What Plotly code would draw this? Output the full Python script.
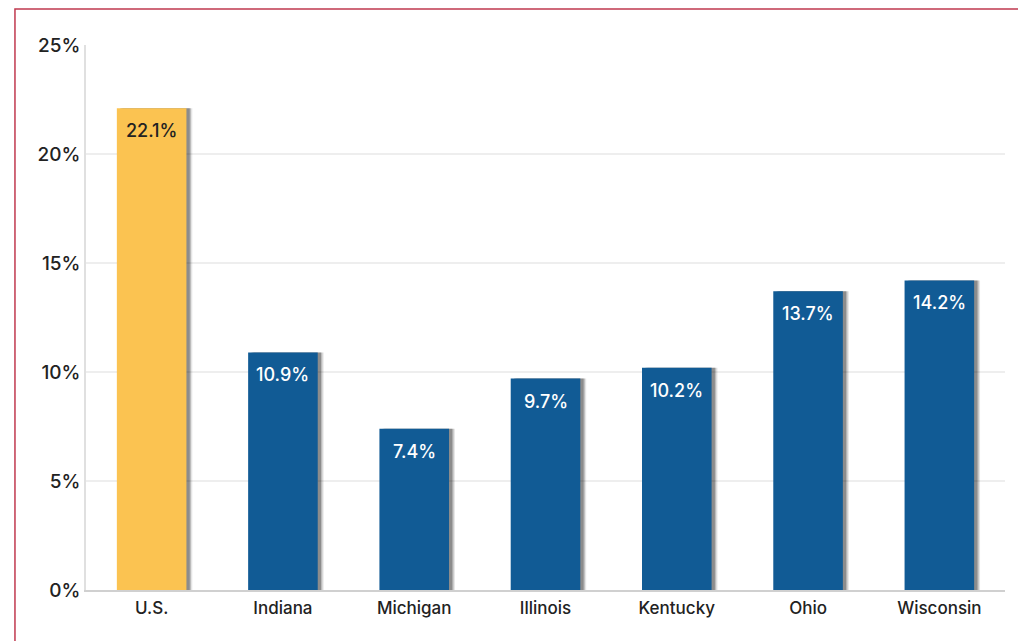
import plotly.graph_objects as go

states = ["U.S.", "Indiana", "Michigan", "Illinois", "Kentucky", "Ohio", "Wisconsin"]
shares = [22.1, 10.9, 7.4, 9.7, 10.2, 13.7, 14.2]
bar_colors = ["#fbc351"] + ["#115b95"] * 6
text_colors = ["#222222"] + ["#ffffff"] * 6
labels = [f"{v}%" for v in shares]

fig = go.Figure()

# soft drop shadow behind each bar
for dx, alpha in [(0.045, 0.10), (0.035, 0.18), (0.025, 0.25)]:
    fig.add_trace(go.Bar(
        x=states, y=shares, width=0.53, offset=-0.265 + dx,
        marker=dict(color=f"rgba(0,0,0,{alpha})", line=dict(width=0)),
        hoverinfo="skip", showlegend=False,
    ))
fig.add_trace(go.Bar(
    x=states, y=shares, width=0.53, offset=-0.265,
    marker=dict(color=bar_colors, line=dict(width=0)),
    showlegend=False,
))

# value labels just inside the top of each bar
for s, v, lab, tc in zip(states, shares, labels, text_colors):
    fig.add_annotation(
        x=s, y=v, text=lab, showarrow=False,
        yanchor="top", yshift=-10,
        font=dict(size=18, color=tc, family="Inter", weight=500),
    )

fig.update_layout(
    barmode="overlay",
    width=1026, height=641,
    margin=dict(l=78, r=29, t=37, b=59),
    paper_bgcolor="white", plot_bgcolor="white",
    font=dict(family="Inter", color="#222222"),
    xaxis=dict(
        tickfont=dict(size=17, weight=500), showgrid=False,
        showline=True, linecolor="#d0d0d0", linewidth=1.5,
        ticks="", ticklabelstandoff=2,
    ),
    yaxis=dict(
        range=[0, 25], dtick=5, ticksuffix="%",
        tickfont=dict(size=19, weight=500), gridcolor="#eeeeee", gridwidth=1.5,
        showline=True, linecolor="#e0e0e0", linewidth=1.5,
        zeroline=False, ticks="", ticklabelstandoff=0,
    ),
    shapes=[dict(
        type="rect", xref="paper", yref="paper",
        x0=-0.0773, x1=1.0185, y0=-0.2, y1=1.066,
        line=dict(color="#c0394f", width=1.5), layer="below",
    )],
)

fig.write_html("out.html")
